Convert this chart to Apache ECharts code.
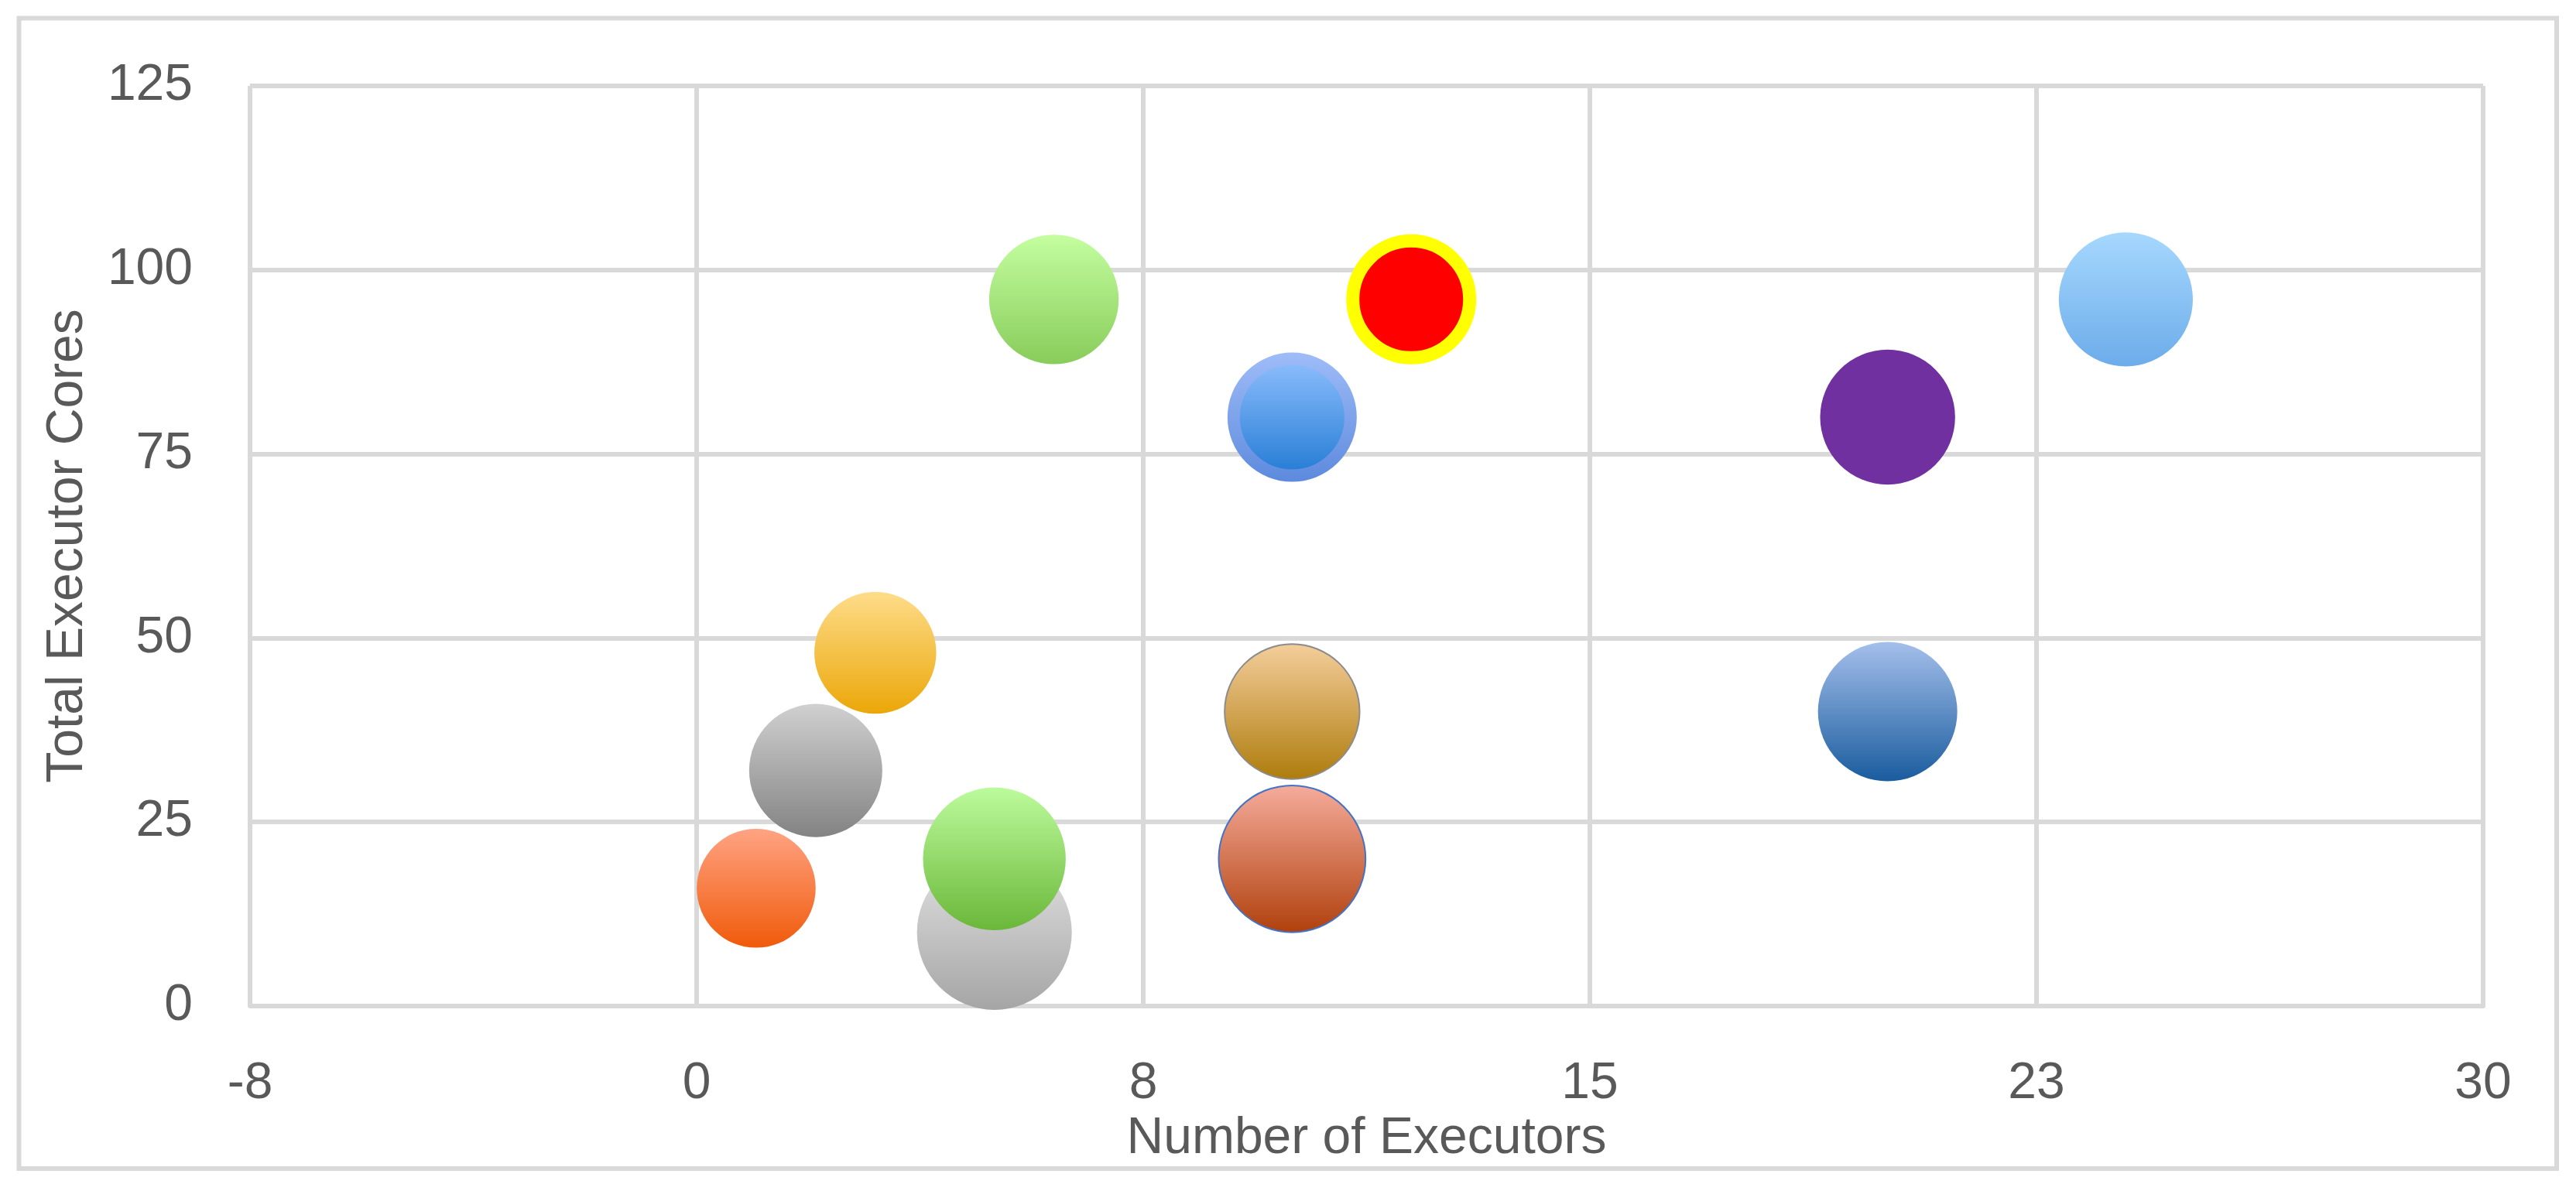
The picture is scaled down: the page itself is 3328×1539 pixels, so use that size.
<!DOCTYPE html>
<html><head><meta charset="utf-8">
<script src="https://cdn.jsdelivr.net/npm/echarts@6/dist/echarts.min.js"></script>
<style>html,body{margin:0;padding:0;background:#fff}#c{width:3328px;height:1539px}</style>
</head><body><div id="c"></div>
<script>
// Data
const executors    = [1, 2, 3, 5, 5, 6, 10, 10, 10, 12, 20, 20, 24];
const cores        = [16, 32, 48, 10, 20, 96, 80, 40, 20, 96, 80, 40, 96];
const bubbleValues = [59, 74, 62, 100, 85, 70, 57, 76, 90, 57, 76, 81, 75];
const xTickLabels  = ['-8', '0', '8', '15', '23', '30'];
const yTickLabels  = ['0', '25', '50', '75', '100', '125'];

// Styles (one per bubble)
const bubbleStyles = [
  { top: '#FFA383', bottom: '#F05A0A' },
  { top: '#D0D0D0', bottom: '#838383' },
  { top: '#FEDC8A', bottom: '#EBA708' },
  { top: '#E2E2E2', bottom: '#A5A5A5' },
  { top: '#BCFB9C', bottom: '#6BB73A' },
  { top: '#C4FEA0', bottom: '#88CC5A' },
  { top: '#94C2FF', bottom: '#1E78D2', bTop: '#9FBCF8', bBottom: '#5D8ADD', bw: 16 },
  { top: '#F4CE9C', bottom: '#AE7C0C', border: '#8C8C8C', bw: 2 },
  { top: '#F6AC9C', bottom: '#B0400C', border: '#4472C4', bw: 2 },
  { top: '#FF0000', bottom: '#FF0000', border: '#FFFF00', bw: 17 },
  { top: '#7030A0', bottom: '#7030A0' },
  { top: '#A4BFEB', bottom: '#1A5C9E' },
  { top: '#A6D8FE', bottom: '#6CACEA' }
];

const grad = (a, b) => new echarts.graphic.LinearGradient(0, 0, 0, 1, [
  { offset: 0, color: a }, { offset: 1, color: b }
]);

const maxV = Math.max(...bubbleValues);
const data = executors.map((x, i) => {
  const s = bubbleStyles[i];
  const st = { color: grad(s.top, s.bottom), opacity: 1 };
  if (s.bTop) { st.borderColor = grad(s.bTop, s.bBottom); st.borderWidth = s.bw; }
  else if (s.border) { st.borderColor = s.border; st.borderWidth = s.bw; }
  return { value: [x, cores[i], bubbleValues[i]], itemStyle: st };
});

const textColor = '#595959';
const font = 'Liberation Sans';
const gridColor = '#D9D9D9';

const chart = echarts.init(document.getElementById('c'), null, { renderer: 'canvas' });
chart.setOption({
  backgroundColor: '#ffffff',
  animation: false,
  graphic: [{
    type: 'rect', silent: true, z: -10,
    shape: { x: 24.5, y: 23.5, width: 3278.5, height: 1486.5 },
    style: { fill: 'none', stroke: gridColor, lineWidth: 6 }
  }],
  grid: { left: 323, right: 120, top: 111, bottom: 239, containLabel: false, outerBoundsMode: 'none' },
  xAxis: {
    type: 'value', min: -7.5, max: 30, interval: 7.5,
    name: 'Number of Executors', nameLocation: 'middle', nameGap: 123,
    nameTextStyle: { color: textColor, fontFamily: font, fontSize: 66 },
    axisLine: { show: true, lineStyle: { color: gridColor, width: 6 } },
    axisTick: { show: false },
    axisLabel: {
      color: textColor, fontFamily: font, fontSize: 66, margin: 68,
      formatter: (v, idx) => xTickLabels[idx]
    },
    splitLine: { show: true, lineStyle: { color: gridColor, width: 6 } }
  },
  yAxis: {
    type: 'value', min: 0, max: 125, interval: 25,
    name: 'Total Executor Cores', nameLocation: 'middle', nameGap: 202, nameRotate: 90,
    nameTextStyle: { color: textColor, fontFamily: font, fontSize: 66 },
    axisLine: { show: true, lineStyle: { color: gridColor, width: 6 } },
    axisTick: { show: false },
    axisLabel: {
      color: textColor, fontFamily: font, fontSize: 66, margin: 74,
      formatter: (v, idx) => yTickLabels[idx]
    },
    splitLine: { show: true, lineStyle: { color: gridColor, width: 6 } }
  },
  series: [{
    type: 'scatter',
    symbol: 'circle',
    symbolSize: (val) => 200 * Math.sqrt(val[2] / maxV),
    clip: false,
    data: data
  }]
});
</script>
</body></html>
